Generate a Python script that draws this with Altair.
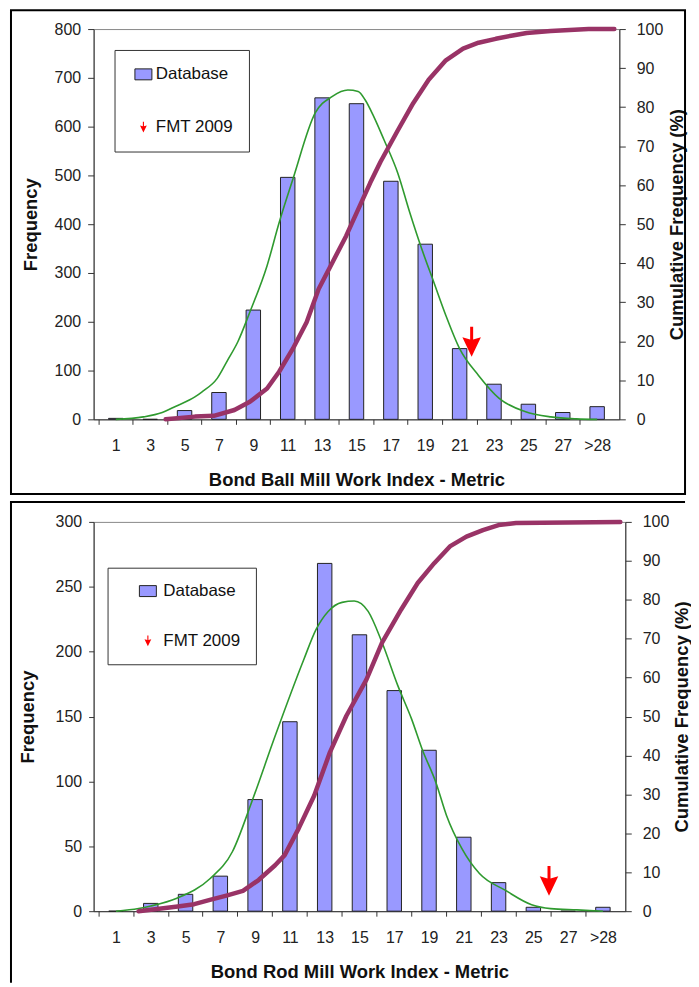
import json
import altair as alt
import pandas as pd

# ---------------- data ----------------
categories = ["1", "3", "5", "7", "9", "11", "13", "15", "17", "19", "21", "23", "25", "27", ">28"]

ball_freq = [2, 0, 18, 55, 224, 496, 659, 647, 488, 359, 145, 72, 31, 14, 26]
rod_freq = [0, 6, 13, 27, 86, 146, 268, 213, 170, 124, 57, 22, 3, 0, 3]

# fitted (green) curve, x in work-index units
ball_fit_wi = [1.0, 2.6, 3.7, 4.5, 5.6, 6.0, 6.9, 7.5, 8.1, 8.8, 9.8, 10.5, 11.3, 12.6, 13.6, 14.5, 15.1,
               15.5, 16.0, 16.6, 17.4, 18.1, 18.8, 19.5, 20.2, 21.0, 22.1, 23.3, 24.8, 26.3, 27.8, 29.0]
ball_fit_freq = [0, 5, 14, 27, 46, 56, 84, 121, 159, 220, 315, 403, 492, 628, 662, 675, 672,
                 655, 621, 573, 505, 424, 349, 281, 213, 145, 90, 43, 16, 5, 1, 0]

rod_fit_wi = [1.0, 2.3, 3.0, 4.5, 6.4, 7.7, 8.8, 10.15, 11.8, 12.5, 13.2, 14.0, 14.7, 15.5,
              16.3, 17.2, 18.0, 18.6, 19.4, 20.0, 20.9, 21.9, 23.4, 24.9, 26.0, 27.5, 29.0]
rod_fit_freq = [0, 2, 4, 10, 25, 46, 84, 135, 194, 217, 231, 238, 239, 231,
                207, 174, 148, 125, 99, 74, 48, 29, 16, 5, 2, 1, 0]

# cumulative (maroon) curve, percent
ball_cum_wi = [3.9, 5.6, 6.7, 7.9, 8.8, 9.8, 10.5, 11.3, 12.1, 12.8, 13.6, 14.4, 15.1, 15.8,
               16.4, 17.4, 18.3, 19.2, 20.2, 21.2, 22.1, 23.1, 24.0, 24.9, 26.3, 28.5, 30.0]
ball_cum_pct = [0, 0.7, 0.9, 2.4, 4.5, 7.9, 12.2, 18.1, 24.9, 33.4, 40.2, 47, 53.8, 60.6,
                66, 74, 81, 87, 92, 95, 96.5, 97.5, 98.3, 99, 99.5, 100, 100]

rod_cum_wi = [2.3, 4.55, 5.5, 6.4, 7.35, 8.3, 9.2, 10.15, 10.7, 11.5, 12.4, 13.3, 14.25, 15.4,
              16.3, 17.4, 18.35, 19.3, 20.2, 21.15, 22.1, 23.0, 24.0, 30.0]
rod_cum_pct = [0, 1.2, 1.8, 2.9, 4.0, 5.2, 8.0, 11.8, 14.4, 21.2, 29.7, 40.8, 50.2, 59.5,
               69, 77.5, 84.3, 89.4, 93.7, 96.2, 97.9, 99.2, 99.7, 100]

# FMT 2009 marker
ball_fmt_wi = [21.7]
ball_fmt_freq = [159]
rod_fmt_wi = [25.9]
rod_fmt_freq = [23.4]

series_names = ["Database", "FMT 2009"]
series_colors = ["#9999ff", "#ff0000"]
series_strokes = ["#222222", "transparent"]

FONT = "Liberation Sans"
RECT_PATH = "M-1.55,-1 L1.55,-1 L1.55,1 L-1.55,1 Z"
ARROW_PATH = "M-0.1,-1 L0.1,-1 L0.1,-0.15 L0.62,-0.3 L0,1 L-0.62,-0.3 L-0.1,-0.15 Z"

label_expr = ("datum.value < 30 ? " + json.dumps(categories) +
              "[(datum.value - 1) / 2] : ''")


def panel(freq, fit_wi, fit_freq, cum_wi, cum_pct, fmt_wi, fmt_freq, xtitle,
          ymax, ystep, width, height, leg, tick, box, full_box, ttl):
    xscale = alt.Scale(domain=[0, 30], nice=False, zero=False)
    yscale = alt.Scale(domain=[0, ymax], nice=False)
    unit = width / 30.0

    bars_df = pd.DataFrame({
        "cat": categories,
        "wi": [2 * i + 1 for i in range(len(categories))],
        "freq": freq,
    })
    fit_df = pd.DataFrame({"wi": fit_wi, "freq": fit_freq})
    cum_df = pd.DataFrame({"wi": cum_wi, "cum": cum_pct})
    fmt_df = pd.DataFrame({"wi": fmt_wi, "freq": fmt_freq, "series": [series_names[1]] * len(fmt_wi)})
    one = pd.DataFrame({"k": [0]})

    legend = alt.Legend(
        title=None, orient="none", legendX=leg["x"], legendY=leg["y"],
        padding=leg["pad"], symbolOffset=leg["symoff"], labelOffset=leg["laboff"],
        rowPadding=leg["row"], symbolSize=121, symbolStrokeWidth=1,
        labelFontSize=17, labelFont=FONT, labelColor="#111",
        strokeColor="#333", fillColor="white",
    )

    xaxis = alt.Axis(
        values=list(range(1, 30, 2)), tickCount=100, labelExpr=label_expr, tickSize=5,
        labelPadding=13, tickOffset=-unit, labelOffset=unit,
        labelOverlap=False, labelFlush=False, title=xtitle,
        titleX=width / 2, titleY=ttl["x"], titleAlign="center", titleBaseline="middle",
    )
    yaxis = alt.Axis(values=list(range(0, ymax + 1, ystep)), tickCount=100, tickSize=tick,
                     labelPadding=7, title="Frequency", titleAngle=270,
                     titleX=ttl["left"], titleY=height / 2, titleAlign="center",
                     titleBaseline="middle")

    bars = alt.Chart(bars_df).mark_bar(size=14.5, stroke="#222", strokeWidth=1,
                                       fill=series_colors[0]).encode(
        x=alt.X("wi:Q", scale=xscale, axis=xaxis),
        y=alt.Y("freq:Q", scale=yscale, axis=yaxis),
    )
    green = alt.Chart(fit_df).mark_line(color="#2f9a2f", strokeWidth=1.6,
                                        interpolate="monotone").encode(
        x=alt.X("wi:Q", scale=xscale),
        y=alt.Y("freq:Q", scale=yscale),
    )
    arrow = alt.Chart(fmt_df).mark_point(size=900, filled=True, opacity=1,
                                         strokeWidth=1).encode(
        x=alt.X("wi:Q", scale=xscale),
        y=alt.Y("freq:Q", scale=yscale),
        fill=alt.Fill("series:N", scale=alt.Scale(domain=series_names, range=series_colors),
                      legend=legend),
        shape=alt.Shape("series:N", scale=alt.Scale(domain=series_names,
                                                    range=[RECT_PATH, ARROW_PATH]),
                        legend=legend),
        stroke=alt.Stroke("series:N", scale=alt.Scale(domain=series_names, range=series_strokes),
                          legend=legend),
    )
    if full_box:
        border = alt.Chart(one).mark_rect(fillOpacity=0, stroke="#000", strokeWidth=2).encode(
            x=alt.value(box[0]), x2=alt.value(box[1]), y=alt.value(box[2]), y2=alt.value(box[3]))
        borders = [border]
    else:
        b1 = alt.Chart(one).mark_rule(stroke="#000", strokeWidth=2).encode(
            x=alt.value(box[0]), y=alt.value(box[2]), y2=alt.value(box[3]))
        b3 = alt.Chart(one).mark_rule(stroke="#000", strokeWidth=2).encode(
            x=alt.value(box[0] - 1), x2=alt.value(box[1]), y=alt.value(box[2]))
        borders = [b1, b3]

    cum = alt.Chart(cum_df).mark_line(color="#993366", strokeWidth=4.5,
                                      strokeJoin="round", strokeCap="round").encode(
        x=alt.X("wi:Q", scale=xscale),
        y=alt.Y("cum:Q", scale=alt.Scale(domain=[0, 100], nice=False),
                axis=alt.Axis(orient="right", values=list(range(0, 101, 10)), tickCount=100,
                              title="Cumulative Frequency (%)", titleAngle=270,
                              titleX=ttl["right"], titleY=height / 2, titleAlign="center",
                              titleBaseline="middle",
                              tickSize=6, labelPadding=11)),
    )
    inner = alt.layer(*borders, bars, green, arrow)
    return alt.layer(inner, cum).resolve_scale(y="independent").properties(
        width=width, height=height)


top = panel(ball_freq, ball_fit_wi, ball_fit_freq, ball_cum_wi, ball_cum_pct,
            ball_fmt_wi, ball_fmt_freq, "Bond Ball Mill Work Index - Metric",
            800, 100, 528, 392,
            {"x": 21, "y": 21, "pad": 16, "symoff": 4.5, "laboff": 4, "row": 35},
            6, (-83, 594, -19, 467), True,
            {"x": 60, "left": -63, "right": 57})
bottom = panel(rod_freq, rod_fit_wi, rod_fit_freq, rod_cum_wi, rod_cum_pct,
               rod_fmt_wi, rod_fmt_freq, "Bond Rod Mill Work Index - Metric",
               300, 50, 534, 391,
               {"x": 14, "y": 46, "pad": 15, "symoff": 17, "laboff": 7, "row": 32},
               5, (-83, 594, -20, 463), False,
               {"x": 60.5, "left": -66.5, "right": 56})

chart = alt.vconcat(top, bottom, spacing=4).resolve_scale(
    fill="independent", shape="independent", stroke="independent"
).resolve_legend(
    fill="independent", shape="independent", stroke="independent"
).properties(
    padding={"left": 0, "top": -2, "right": 0, "bottom": 0}
).configure_axis(
    labelFont=FONT, titleFont=FONT, labelFontSize=16, titleFontSize=18.5,
    titleFontWeight="bold", labelColor="#222", titleColor="#111",
    domainColor="#333", tickColor="#333", grid=False, labelOverlap=False,
).configure_view(stroke="#888", strokeWidth=1)

chart.save("out.html", embed_options={"renderer": "svg", "actions": False})
